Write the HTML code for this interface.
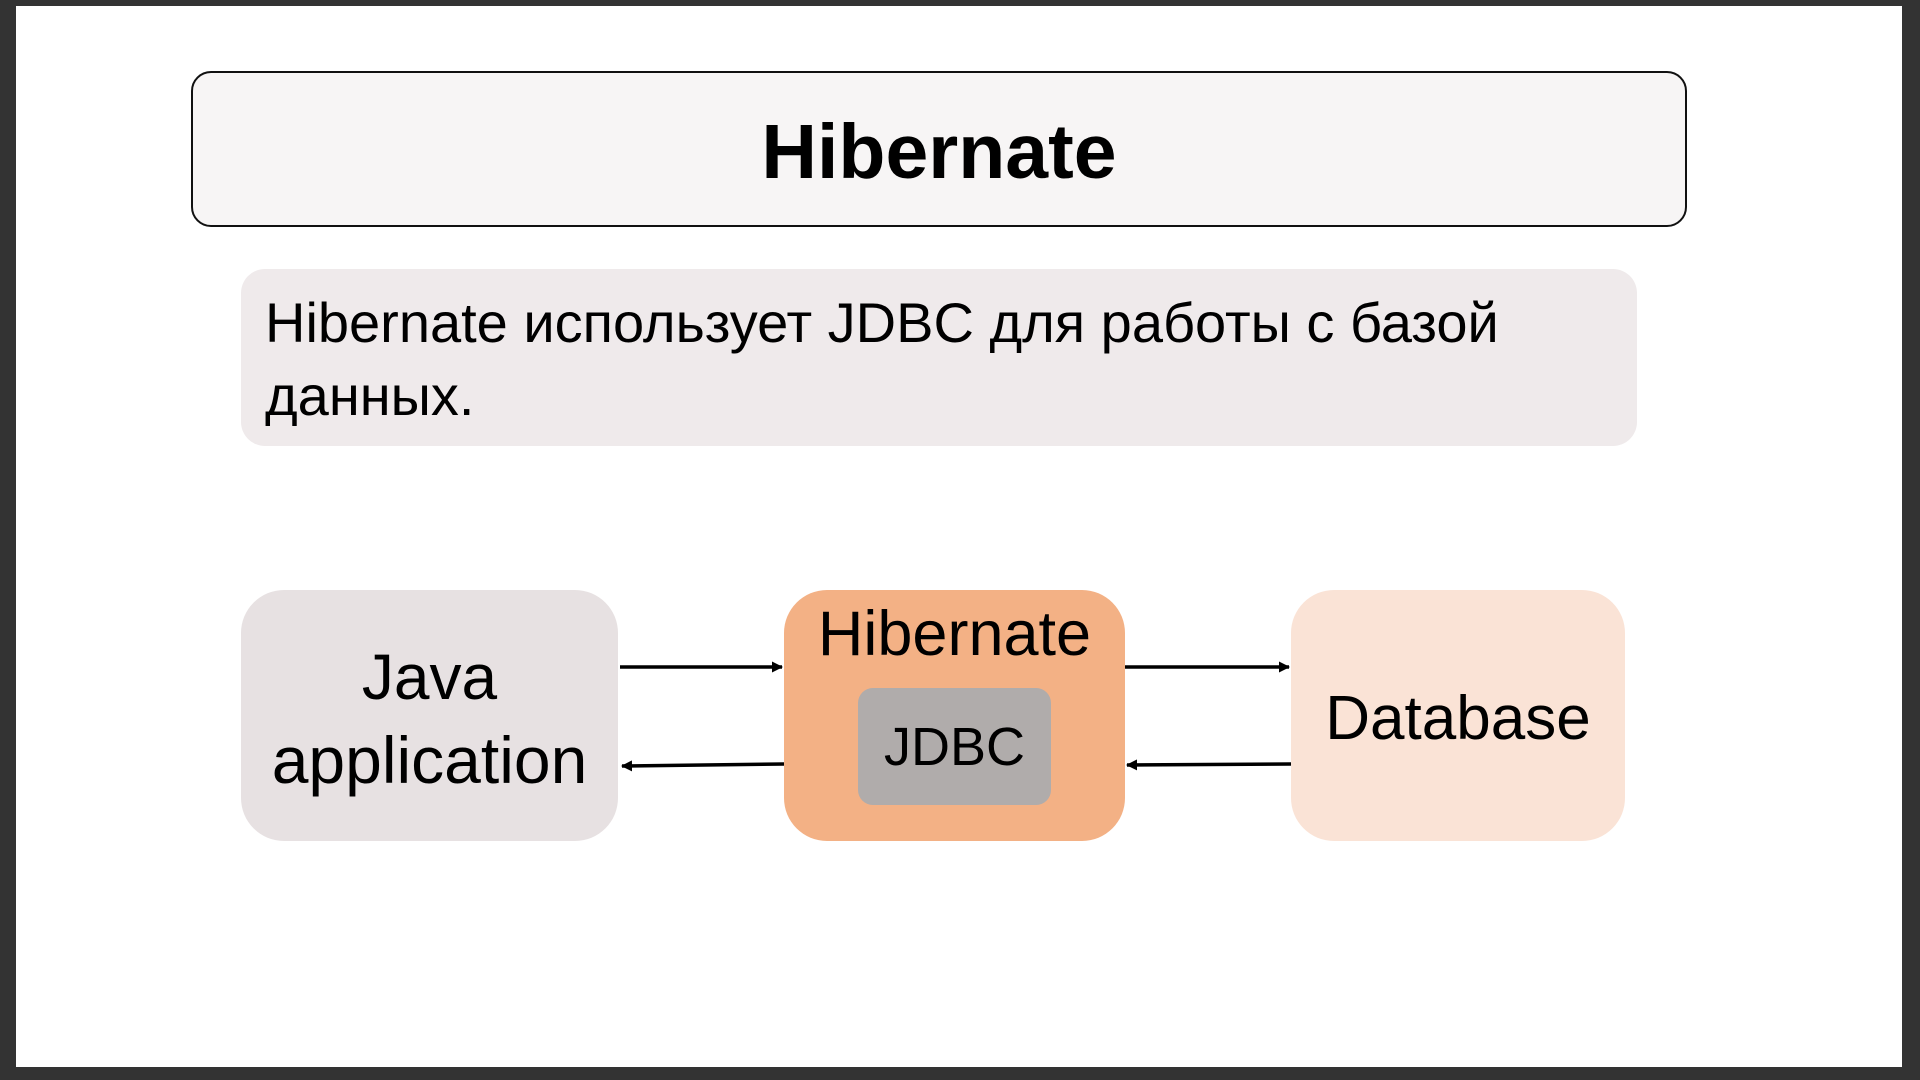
<!DOCTYPE html>
<html><head><meta charset="utf-8"><style>
html,body{margin:0;padding:0;width:1920px;height:1080px;overflow:hidden;background:#333}
.slide{position:absolute;left:16px;top:6px;width:1886px;height:1061px;background:#fff}
.box{position:absolute;box-sizing:border-box}
.t{position:absolute;font-family:"Liberation Sans","Noto Sans CJK SC",sans-serif;color:#000;white-space:nowrap;line-height:1}
</style></head><body>
<div class="slide"></div>
<div class="box" style="left:191px;top:71px;width:1496px;height:156px;border:2px solid #111;border-radius:20px;background:#f7f5f5"></div>
<div class="t" style="left:191px;width:1496px;text-align:center;top:114px;font-size:77px;font-weight:bold">Hibernate</div>
<div class="box" style="left:241px;top:269px;width:1396px;height:177px;border-radius:24px;background:#efeaeb"></div>
<div class="t" style="left:265px;top:295px;font-size:56px">Hibernate использует JDBC для работы с базой</div>
<div class="t" style="left:265px;top:368px;font-size:56px">данных.</div>

<div class="box" style="left:241px;top:590px;width:377px;height:251px;border-radius:43px;background:#e7e1e2"></div>
<div class="t" style="left:241px;width:377px;text-align:center;top:645px;font-size:64px">Java</div>
<div class="t" style="left:241px;width:377px;text-align:center;top:727px;font-size:66px">application</div>

<div class="box" style="left:784px;top:590px;width:341px;height:251px;border-radius:43px;background:#f3b185"></div>
<div class="t" style="left:784px;width:341px;text-align:center;top:603px;font-size:63px">Hibernate</div>
<div class="box" style="left:858px;top:688px;width:193px;height:117px;border-radius:15px;background:#b0acab"></div>
<div class="t" style="left:858px;width:193px;text-align:center;top:720px;font-size:54px">JDBC</div>

<div class="box" style="left:1291px;top:590px;width:334px;height:251px;border-radius:43px;background:#fae3d6"></div>
<div class="t" style="left:1291px;width:334px;text-align:center;top:688px;font-size:62px">Database</div>

<svg style="position:absolute;left:0;top:0" width="1920" height="1080">
<defs><marker id="a" markerWidth="11" markerHeight="11" refX="10" refY="5.5" orient="auto" markerUnits="userSpaceOnUse"><path d="M0,0 L11,5.5 L0,11 z" fill="#000"/></marker></defs>
<g stroke="#000" stroke-width="3.5">
<line x1="620" y1="667" x2="782" y2="667" marker-end="url(#a)"/>
<line x1="784" y1="764" x2="622" y2="766" marker-end="url(#a)"/>
<line x1="1125" y1="667" x2="1289" y2="667" marker-end="url(#a)"/>
<line x1="1291" y1="764" x2="1127" y2="765" marker-end="url(#a)"/>
</g></svg>
</body></html>
